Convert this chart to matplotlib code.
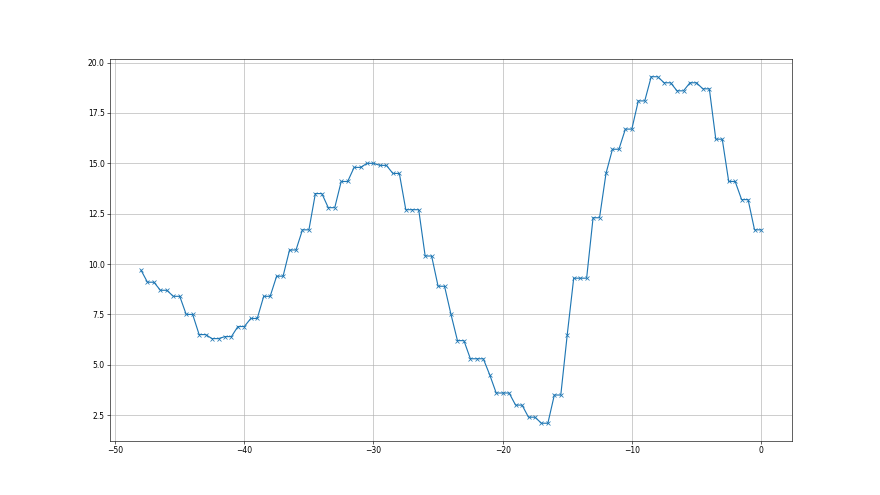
import numpy as np
import matplotlib
matplotlib.use('Agg')
import matplotlib.pyplot as plt

# x runs from -48 to 0 in half steps
x_start = -48.0
x_step = 0.5

values = [
    9.7, 9.1, 9.1, 8.7, 8.7, 8.4, 8.4, 7.5, 7.5, 6.5,
    6.5, 6.3, 6.3, 6.4, 6.4, 6.9, 6.9, 7.3, 7.3, 8.4,
    8.4, 9.4, 9.4, 10.7, 10.7, 11.7, 11.7, 13.5, 13.5, 12.8,
    12.8, 14.1, 14.1, 14.8, 14.8, 15.0, 15.0, 14.9, 14.9, 14.5,
    14.5, 12.7, 12.7, 12.7, 10.4, 10.4, 8.9, 8.9, 7.5, 6.2,
    6.2, 5.3, 5.3, 5.3, 4.5, 3.6, 3.6, 3.6, 3.0, 3.0,
    2.4, 2.4, 2.1, 2.1, 3.5, 3.5, 6.5, 9.3, 9.3, 9.3,
    12.3, 12.3, 14.5, 15.7, 15.7, 16.7, 16.7, 18.1, 18.1, 19.3,
    19.3, 19.0, 19.0, 18.6, 18.6, 19.0, 19.0, 18.7, 18.7, 16.2,
    16.2, 14.1, 14.1, 13.2, 13.2, 11.7, 11.7,
]

xs = x_start + x_step * np.arange(len(values))

fig, ax = plt.subplots(figsize=(16, 9), dpi=55)
ax.plot(xs, values, marker='x', color='#1f77b4')
ax.grid(True)

plt.savefig('out.png', dpi=55, facecolor='white')
plt.close()
